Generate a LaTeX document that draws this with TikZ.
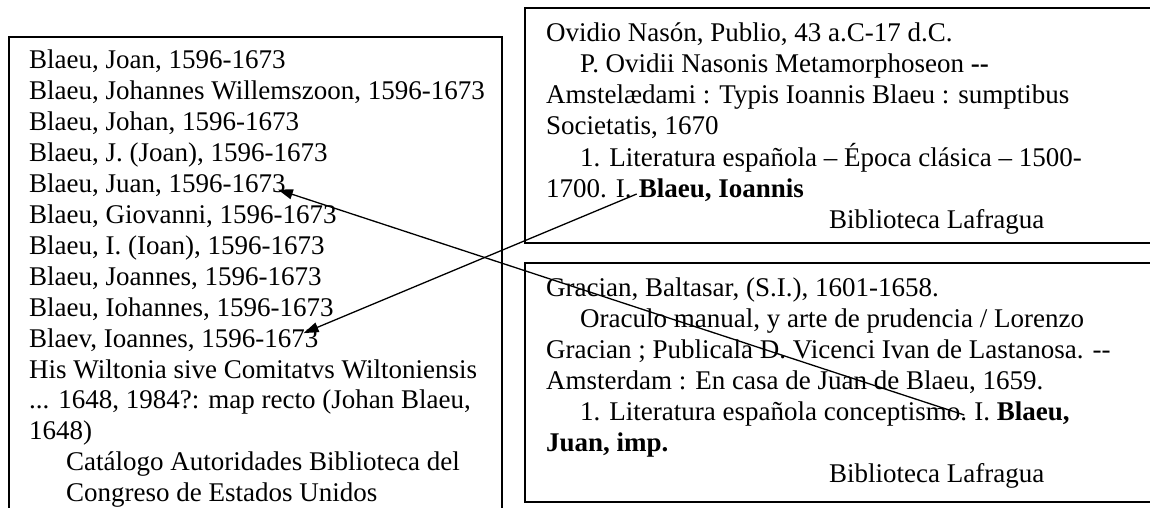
\documentclass[tikz,border=0pt]{standalone}
\usepackage{fontspec}
\setmainfont{Liberation Serif}
\usetikzlibrary{arrows.meta,calc}
\begin{document}
\begin{tikzpicture}[x=1pt,y=-1pt,
  txt/.style={inner sep=0pt, anchor=base west, font=\fontsize{27}{31}\selectfont},
  card/.style={draw=black, line width=1.6pt},
  link/.style={draw=black, line width=1.3pt, -{Triangle[length=15pt,width=10pt]}}]
\useasboundingbox (0,0) rectangle (1150,508);
\clip (0,0) rectangle (1150,508);
% boxes
\draw[card] (9,37) rectangle (502,540);
\draw[card] (525,8) rectangle (1175,243);
\draw[card] (525,263) rectangle (1175,502);
% left box
\node[txt] (l1)  at (29,69)    {Blaeu, Joan, 1596-1673};
\node[txt] (l2)  at (29,99.9)  {Blaeu, Johannes Willemszoon, 1596-1673};
\node[txt] (l3)  at (29,130.8) {Blaeu, Johan, 1596-1673};
\node[txt] (l4)  at (29,161.7) {Blaeu, J. (Joan), 1596-1673};
\node[txt] (l5)  at (29,192.6) {Blaeu, Juan, 1596-1673};
\node[txt] (l6)  at (29,223.5) {Blaeu, Giovanni, 1596-1673};
\node[txt] (l7)  at (29,254.4) {Blaeu, I. (Ioan), 1596-1673};
\node[txt] (l8)  at (29,285.3) {Blaeu, Joannes, 1596-1673};
\node[txt] (l9)  at (29,316.2) {Blaeu, Iohannes, 1596-1673};
\node[txt] (l10) at (29,347.1) {Blaev, Ioannes, 1596-1673};
\node[txt] (l11) at (29,378)   {His Wiltonia sive Comitatvs Wiltoniensis};
\node[txt] (l12) at (29,408.9) {... 1648, 1984?: map recto (Johan Blaeu,};
\node[txt] (l13) at (29,439.8) {1648)};
\node[txt] (l14) at (66,470.7) {Catálogo Autoridades Biblioteca del};
\node[txt] (l15) at (66,501.6) {Congreso de Estados Unidos};
% top right box
\node[txt] (t1) at (546,42)  {Ovidio Nasón, Publio, 43 a.C-17 d.C.};
\node[txt] (t2) at (580,73)  {P. Ovidii Nasonis Metamorphoseon \textbf{-\kern0pt-}};
\node[txt] (t3) at (546,104) {Amstelædami : Typis Ioannis Blaeu : sumptibus};
\node[txt] (t4) at (546,135) {Societatis, 1670};
\node[txt] (t5) at (580,166) {1. Literatura española – Época clásica – 1500-};
\node[txt] (t6a) at (546,197) {1700. I.};
\node[txt] (t6b) at ($(t6a.base east)+(6.8,0)$) {\textbf{Blaeu, Ioannis}};
\node[txt] (t7) at (829,228) {Biblioteca Lafragua};
% bottom right box
\node[txt] (b1) at (546,296) {Gracian, Baltasar, (S.I.), 1601-1658.};
\node[txt] (b2) at (580,327) {Oraculo manual, y arte de prudencia / Lorenzo};
\node[txt] (b3) at (546,358) {Gracian ; Publicala D. Vicenci Ivan de Lastanosa. -\kern0pt-};
\node[txt] (b4) at (546,389) {Amsterdam : En casa de Juan de Blaeu, 1659.};
\node[txt] (b5a) at (580,420) {1. Literatura española conceptismo.};
\node[txt] (b5b) at ($(b5a.base east)+(6.8,0)$) {I. \textbf{Blaeu,}};
\node[txt] (b6) at (546,451) {\textbf{Juan, imp.}};
\node[txt] (b7) at (829,482) {Biblioteca Lafragua};
% connectors
\draw[link] ($(t6b.base west)+(-2,-3)$) -- ($(l10.base east)+(-15,-14)$);
\draw[link] ($(b5a.base east)+(-3,-5)$) -- ($(l5.base east)+(-8,-3)$);
\end{tikzpicture}
\end{document}
